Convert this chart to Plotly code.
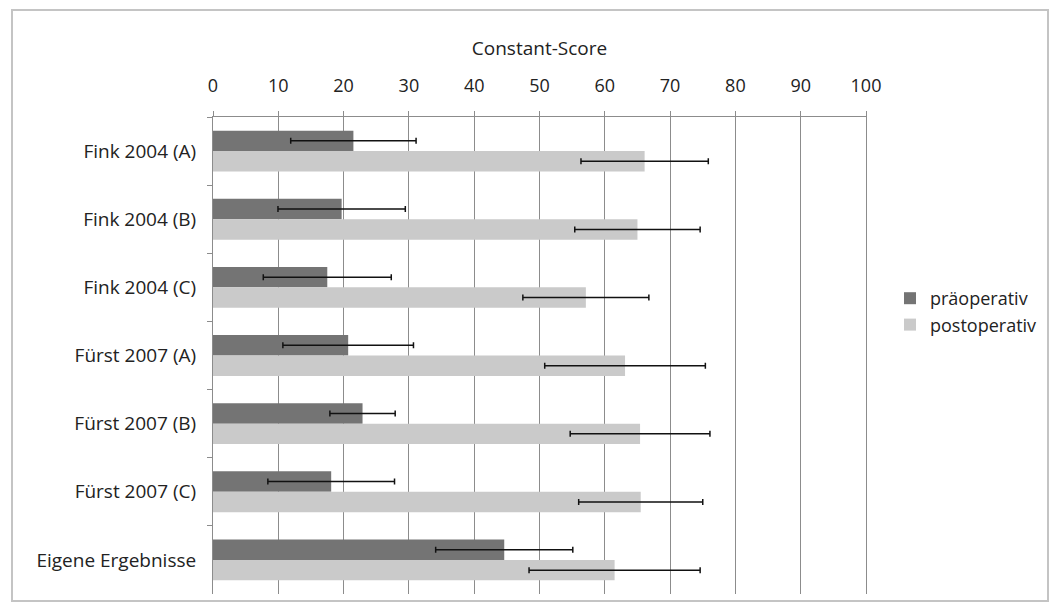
import plotly.graph_objects as go

categories = ["Fink 2004 (A)", "Fink 2004 (B)", "Fink 2004 (C)", "Fürst 2007 (A)",
              "Fürst 2007 (B)", "Fürst 2007 (C)", "Eigene Ergebnisse"]
pre_values = [21.5, 19.7, 17.5, 20.7, 22.9, 18.1, 44.6]
pre_err = [9.6, 9.75, 9.8, 10.0, 5.0, 9.7, 10.5]
post_values = [66.1, 65.0, 57.1, 63.1, 65.4, 65.5, 61.5]
post_err = [9.75, 9.6, 9.65, 12.3, 10.7, 9.5, 13.1]
x_ticks = [0, 10, 20, 30, 40, 50, 60, 70, 80, 90, 100]

L, R, T, B = 213, 866, 117, 594
W, H = 1053, 607

fig = go.Figure()
fig.add_trace(go.Bar(
    y=categories, x=pre_values, orientation="h", name="präoperativ",
    marker=dict(color="#747474", line=dict(width=0)),
    error_x=dict(type="data", array=pre_err, color="#111111", thickness=1.5, width=3),
))
fig.add_trace(go.Bar(
    y=categories, x=post_values, orientation="h", name="postoperativ",
    marker=dict(color="#cacaca", line=dict(width=0)),
    error_x=dict(type="data", array=post_err, color="#111111", thickness=1.5, width=3),
))

pw = R - L
ph = B - T
fig.add_shape(type="rect", xref="paper", yref="paper",
              x0=(12 - L) / pw, x1=(1048 - L) / pw,
              y0=(B - 601) / ph, y1=(B - 10) / ph,
              line=dict(color="#c4c4c4", width=2), fillcolor="rgba(0,0,0,0)", layer="below")

fig.update_layout(
    width=W, height=H,
    margin=dict(l=L, r=W - R, t=T, b=H - B, autoexpand=False),
    paper_bgcolor="white", plot_bgcolor="white",
    barmode="group", bargap=0.4, bargroupgap=0.0,
    font=dict(family="Open Sans, sans-serif", size=19, color="#222222"),
    showlegend=True,
    legend=dict(x=(890 - L) / pw, y=(B - 280) / ph, xanchor="left", yanchor="top",
                font=dict(size=18, color="#222222"), bgcolor="rgba(0,0,0,0)",
                tracegroupgap=0, itemwidth=30),
    xaxis=dict(
        side="top", range=[0, 100], tickvals=x_ticks, ticktext=[str(v) for v in x_ticks],
        showgrid=True, gridcolor="#8c8c8c", gridwidth=1,
        showline=True, linecolor="#8c8c8c", linewidth=1,
        ticks="outside", ticklen=5, tickcolor="#8c8c8c",
        ticklabelstandoff=12,
        title=dict(text="Constant-Score", font=dict(size=19, color="#222222"), standoff=12),
        tickfont=dict(size=18, color="#222222"),
        zeroline=False, mirror=False, automargin=False,
    ),
    yaxis=dict(
        autorange="reversed", showline=True, linecolor="#8c8c8c", linewidth=1, mirror=True,
        ticks="outside", ticklen=5, tickcolor="#8c8c8c", tickson="boundaries",
        ticklabelstandoff=12,
        tickfont=dict(size=19, color="#222222"), showgrid=False, automargin=False,
    ),
)

fig.write_html("out.html", config={"displayModeBar": False},
               post_script="document.body.style.margin='0';")
